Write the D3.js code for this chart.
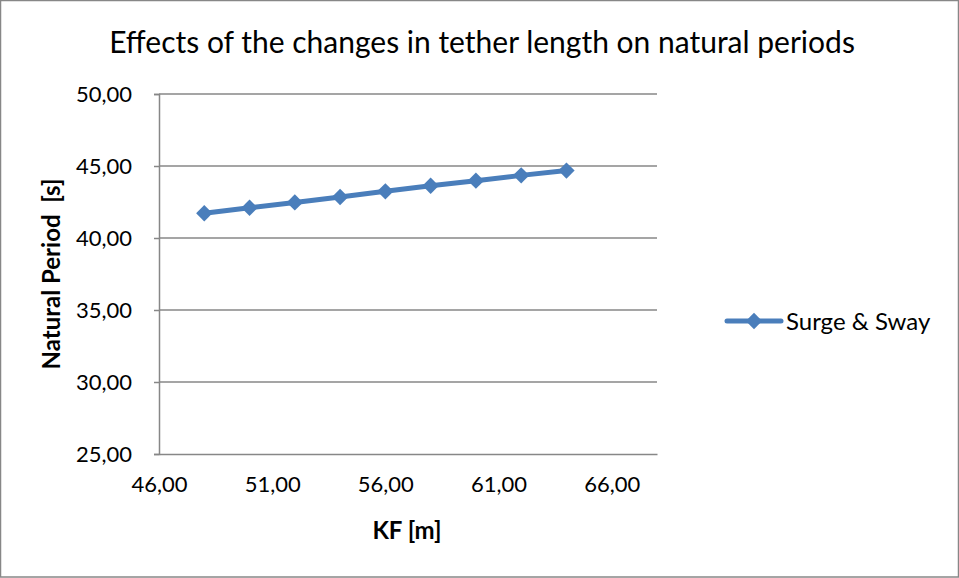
<!DOCTYPE html>
<html>
<head>
<meta charset="utf-8">
<script src="https://cdn.jsdelivr.net/npm/d3@7"></script>
<style>
  html, body { margin: 0; padding: 0; background: #fff; }
  svg { display: block; }
  text { font-family: Lato, "Open Sans", sans-serif; fill: #000; }
</style>
</head>
<body>
<svg id="chart" width="959" height="578"></svg>
<script>
// Tether length KF [m] and resulting surge & sway natural period [s]
const kf = [48, 50, 52, 54, 56, 58, 60, 62, 64];
const surgeSway = [41.72, 42.10, 42.47, 42.85, 43.24, 43.63, 43.98, 44.35, 44.68];
const xTicks = [46, 51, 56, 61, 66];
const yTicks = [25, 30, 35, 40, 45, 50];
const seriesName = "Surge & Sway";
const chartTitle = "Effects of the changes in tether length on natural periods";
const xTitle = "KF [m]";
const yTitle = "Natural Period  [s]";

const W = 959, H = 578;
const plot = { left: 159, right: 657, top: 94, bottom: 454 };
const blue = "#4a7ebb";
const grey = "#878787";
const fmt = v => d3.format(".2f")(v).replace(".", ",");

const svg = d3.select("#chart");

// chart frame
svg.append("rect")
  .attr("x", 0.5).attr("y", 0.5)
  .attr("width", W - 1).attr("height", H - 1.5)
  .attr("fill", "#fff").attr("stroke", grey).attr("stroke-width", 1.5);

const x = d3.scaleLinear().domain([46, 68]).range([plot.left, plot.right]);
const y = d3.scaleLinear().domain([25, 50]).range([plot.bottom, plot.top]);

// horizontal gridlines
svg.append("g")
  .selectAll("line")
  .data(yTicks.filter(t => t !== 25))
  .join("line")
  .attr("x1", plot.left).attr("x2", plot.right)
  .attr("y1", d => y(d)).attr("y2", d => y(d))
  .attr("stroke", grey).attr("stroke-width", 1.5);

// y axis
const yAxis = svg.append("g")
  .attr("transform", `translate(${plot.left},0)`)
  .call(d3.axisLeft(y).tickValues(yTicks).tickFormat(fmt).tickSize(5).tickPadding(22));
yAxis.select(".domain").attr("stroke", grey).attr("stroke-width", 1.5);
yAxis.selectAll(".tick line").attr("stroke", grey).attr("stroke-width", 1.5);
yAxis.selectAll(".tick text")
  .attr("font-size", 22).attr("font-family", "Lato, sans-serif").attr("fill", "#000");

// x axis
const xAxis = svg.append("g")
  .attr("transform", `translate(0,${plot.bottom})`)
  .call(d3.axisBottom(x).tickValues(xTicks).tickFormat(fmt).tickSize(0).tickPadding(22));
xAxis.select(".domain").attr("stroke", grey).attr("stroke-width", 1.5);
xAxis.selectAll(".tick text")
  .attr("font-size", 22).attr("font-family", "Lato, sans-serif").attr("fill", "#000");

// series line and diamond markers
const pts = kf.map((k, i) => [k, surgeSway[i]]);
svg.append("path")
  .datum(pts)
  .attr("fill", "none")
  .attr("stroke", blue).attr("stroke-width", 5)
  .attr("stroke-linejoin", "round")
  .attr("d", d3.line().x(d => x(d[0])).y(d => y(d[1])));

const diamond = d3.symbol().type(d3.symbolDiamond2).size(170);
svg.append("g")
  .selectAll("path")
  .data(pts)
  .join("path")
  .attr("transform", d => `translate(${x(d[0])},${y(d[1])})`)
  .attr("d", diamond)
  .attr("fill", blue);

// title
svg.append("text")
  .attr("x", 482).attr("y", 53)
  .attr("text-anchor", "middle")
  .attr("font-size", 30)
  .text(chartTitle);

// axis titles
svg.append("text")
  .attr("x", 407).attr("y", 539)
  .attr("text-anchor", "middle")
  .attr("font-size", 24).attr("font-weight", "bold")
  .text(xTitle);

svg.append("text")
  .attr("transform", `translate(60,${(plot.top + plot.bottom) / 2}) rotate(-90)`)
  .attr("text-anchor", "middle")
  .attr("font-size", 24).attr("font-weight", "bold")
  .attr("xml:space", "preserve")
  .style("white-space", "pre")
  .text(yTitle);

// legend
const lg = svg.append("g").attr("transform", "translate(727,321)");
lg.append("line")
  .attr("x1", 0).attr("x2", 54).attr("y1", 0).attr("y2", 0)
  .attr("stroke", blue).attr("stroke-width", 5).attr("stroke-linecap", "round");
lg.append("path")
  .attr("transform", "translate(27,0)")
  .attr("d", diamond)
  .attr("fill", blue);
lg.append("text")
  .attr("x", 59).attr("y", 9)
  .attr("font-size", 24)
  .text(seriesName);
</script>
</body>
</html>
